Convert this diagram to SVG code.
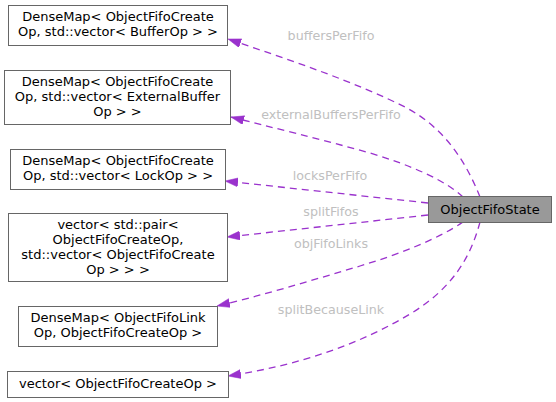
<svg xmlns="http://www.w3.org/2000/svg" width="556" height="402" viewBox="0 0 556 402">
<style>
.n{fill:#ffffff;stroke:#666666;stroke-width:1}
.t{font-family:"DejaVu Sans",sans-serif;font-size:13px;fill:#000000;text-anchor:middle}
.l{font-family:"DejaVu Sans",sans-serif;font-size:12.7px;fill:#c0c0c0;text-anchor:middle}
.e{fill:none;stroke:#9a32cd;stroke-width:1.3;stroke-dasharray:7,5}
</style>
<defs>
<marker id="ah" markerUnits="userSpaceOnUse" markerWidth="14" markerHeight="10" refX="13" refY="4.5" orient="auto">
<path d="M0,0 L13,4.5 L0,9 z" fill="#9a32cd" stroke="#9a32cd" stroke-width="0.5"/>
</marker>
</defs>
<g id="edges">
<path class="e" marker-end="url(#ah)" d="M480,197 C466,162 445,128 405,107 C355,82 290,60 228,39"/>
<path class="e" marker-end="url(#ah)" d="M463,197 C445,180 410,165 370,153 C320,139 270,127 231,117"/>
<path class="e" marker-end="url(#ah)" d="M428,203 L225,181"/>
<path class="e" marker-end="url(#ah)" d="M428,215 L227,237"/>
<path class="e" marker-end="url(#ah)" d="M463,222 C440,238 400,254 360,266 C310,281 260,296 217,306"/>
<path class="e" marker-end="url(#ah)" d="M480,222 C470,260 450,290 410,314 C360,344 300,365 228,376"/>
<text class="l" x="331" y="40">buffersPerFifo</text>
<text class="l" x="331" y="119">externalBuffersPerFifo</text>
<text class="l" x="330" y="180">locksPerFifo</text>
<text class="l" x="331" y="216">splitFifos</text>
<text class="l" x="331" y="248">objFifoLinks</text>
<text class="l" x="331" y="314">splitBecauseLink</text>
</g>
<g id="node_state">
<rect x="428.5" y="196.5" width="123" height="26" fill="#999999" stroke="#666666"/>
<text class="t" x="490" y="214">ObjectFifoState</text>
</g>
<g id="node_buffers">
<rect class="n" x="8.5" y="5.5" width="219" height="40"/>
<text class="t" x="118" y="21">DenseMap&lt; ObjectFifoCreate</text>
<text class="t" x="118" y="36">Op, std::vector&lt; BufferOp &gt; &gt;</text>
</g>
<g id="node_external">
<rect class="n" x="4.5" y="70.5" width="226" height="54"/>
<text class="t" x="117.5" y="86">DenseMap&lt; ObjectFifoCreate</text>
<text class="t" x="117.5" y="101">Op, std::vector&lt; ExternalBuffer</text>
<text class="t" x="117.5" y="116">Op &gt; &gt;</text>
</g>
<g id="node_locks">
<rect class="n" x="10.5" y="149.5" width="215" height="40"/>
<text class="t" x="118" y="165">DenseMap&lt; ObjectFifoCreate</text>
<text class="t" x="118" y="180">Op, std::vector&lt; LockOp &gt; &gt;</text>
</g>
<g id="node_split">
<rect class="n" x="8.5" y="213.5" width="219" height="68"/>
<text class="t" x="118" y="229">vector&lt; std::pair&lt;</text>
<text class="t" x="118" y="244">ObjectFifoCreateOp,</text>
<text class="t" x="118" y="259">std::vector&lt; ObjectFifoCreate</text>
<text class="t" x="118" y="274">Op &gt; &gt; &gt;</text>
</g>
<g id="node_links">
<rect class="n" x="18.5" y="306.5" width="199" height="40"/>
<text class="t" x="118" y="322">DenseMap&lt; ObjectFifoLink</text>
<text class="t" x="118" y="337">Op, ObjectFifoCreateOp &gt;</text>
</g>
<g id="node_vector">
<rect class="n" x="7.5" y="371.5" width="221" height="26"/>
<text class="t" x="118" y="388">vector&lt; ObjectFifoCreateOp &gt;</text>
</g>
</svg>
